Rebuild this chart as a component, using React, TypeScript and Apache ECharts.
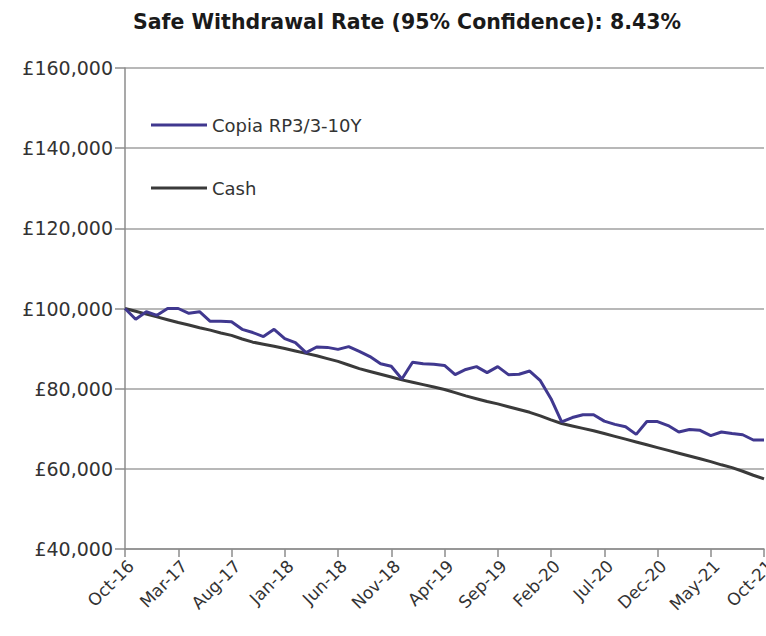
import React, { useEffect, useRef } from "react";
import * as echarts from "echarts";

const months = [
  "Oct-16","Nov-16","Dec-16","Jan-17","Feb-17","Mar-17","Apr-17","May-17","Jun-17","Jul-17","Aug-17","Sep-17",
  "Oct-17","Nov-17","Dec-17","Jan-18","Feb-18","Mar-18","Apr-18","May-18","Jun-18","Jul-18","Aug-18","Sep-18",
  "Oct-18","Nov-18","Dec-18","Jan-19","Feb-19","Mar-19","Apr-19","May-19","Jun-19","Jul-19","Aug-19","Sep-19",
  "Oct-19","Nov-19","Dec-19","Jan-20","Feb-20","Mar-20","Apr-20","May-20","Jun-20","Jul-20","Aug-20","Sep-20",
  "Oct-20","Nov-20","Dec-20","Jan-21","Feb-21","Mar-21","Apr-21","May-21","Jun-21","Jul-21","Aug-21","Sep-21",
  "Oct-21",
];

const copia = [
  100000, 97300, 99200, 98300, 100000, 100000, 98800, 99200, 96800, 96800, 96700, 94800,
  94000, 93000, 94800, 92500, 91500, 89000, 90400, 90300, 89800, 90500, 89300, 88000,
  86200, 85600, 82400, 86600, 86200, 86100, 85800, 83500, 84800, 85500, 84000, 85500,
  83500, 83600, 84400, 82000, 77500, 71700, 72800, 73500, 73500, 71900, 71100, 70500,
  68600, 71800, 71800, 70800, 69200, 69800, 69600, 68300, 69200, 68800, 68500, 67200,
  67200,
];

const cash = [
  100000, 99300, 98600, 97900, 97200, 96500, 95900, 95200, 94600, 93900, 93300, 92400,
  91600, 91100, 90600, 90000, 89400, 88800, 88200, 87500, 86800, 85900, 85000, 84300,
  83600, 82900, 82200, 81600, 81000, 80400, 79800, 79000, 78200, 77500, 76800, 76200,
  75500, 74800, 74100, 73200, 72200, 71300, 70700, 70100, 69500, 68800, 68100, 67400,
  66700, 66000, 65300, 64600, 63900, 63200, 62500, 61800, 61000, 60300, 59400, 58400,
  57500,
];

const seriesNames = ["Copia RP3/3-10Y", "Cash"];
const titleText = "Safe Withdrawal Rate (95% Confidence): 8.43%";

export default function App() {
  const ref = useRef<HTMLDivElement>(null);
  useEffect(() => {
    if (!ref.current) return;
    const chart = echarts.init(ref.current, undefined, { renderer: "svg" });
    const font = "DejaVu Sans";
    chart.setOption({
      animation: false,
      backgroundColor: "#ffffff",
      title: {
        text: titleText,
        left: 402,
        top: 6,
        textAlign: "center",
        textStyle: { fontFamily: font, fontWeight: "bold", fontSize: 20.5, color: "#1a1a1a" },
      },
      legend: {
        orient: "vertical",
        left: 146,
        top: 111,
        icon: "rect",
        itemWidth: 56,
        itemHeight: 3,
        itemGap: 45,
        data: seriesNames,
        textStyle: { fontFamily: font, fontSize: 18, color: "#333333" },
      },
      grid: {
        left: 125,
        top: 68,
        right: 2,
        bottom: 87,
        containLabel: false,
        outerBoundsMode: "none",
      },
      xAxis: {
        type: "category",
        data: months,
        boundaryGap: false,
        axisLine: { lineStyle: { color: "#8c8c8c", width: 1.5 } },
        axisTick: { show: true, interval: 4, length: 8, lineStyle: { color: "#8c8c8c", width: 1.5 } },
        axisLabel: {
          interval: 4,
          rotate: 45,
          margin: 8,
          verticalAlign: "top",
          fontFamily: font,
          fontSize: 17,
          color: "#333333",
        },
        splitLine: { show: false },
      },
      yAxis: {
        type: "value",
        min: 40000,
        max: 160000,
        interval: 20000,
        axisLine: { show: true, lineStyle: { color: "#8c8c8c", width: 1.5 } },
        axisTick: { show: true, length: 10, lineStyle: { color: "#8c8c8c", width: 1.5 } },
        axisLabel: {
          margin: 12,
          fontFamily: font,
          fontSize: 19,
          color: "#333333",
          formatter: (v: number) => "£" + v.toLocaleString("en-GB"),
        },
        splitLine: { lineStyle: { color: "#a0a0a0", width: 1.5 } },
      },
      series: [
        {
          name: seriesNames[0],
          type: "line",
          data: copia,
          showSymbol: false,
          symbol: "none",
          lineStyle: { color: "#40388f", width: 3 },
          itemStyle: { color: "#40388f" },
          z: 3,
        },
        {
          name: seriesNames[1],
          type: "line",
          data: cash,
          showSymbol: false,
          symbol: "none",
          lineStyle: { color: "#3a3a3a", width: 3 },
          itemStyle: { color: "#3a3a3a" },
          z: 2,
        },
      ],
    });
    return () => chart.dispose();
  }, []);
  return <div ref={ref} style={{ width: 766, height: 636, position: "absolute", left: 0, top: 0 }} />;
}
